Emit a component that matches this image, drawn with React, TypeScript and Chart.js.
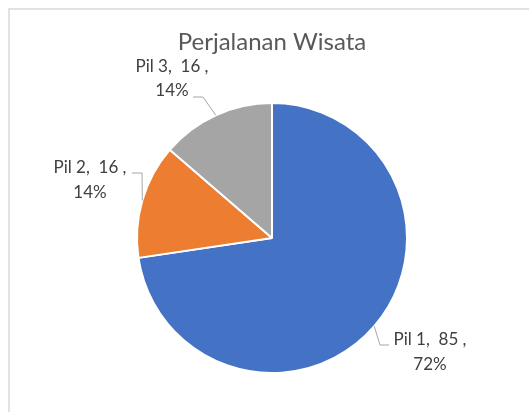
import React, { useEffect, useRef } from "react";
import { Chart, registerables } from "chart.js";

Chart.register(...registerables);

const chartTitle = "Perjalanan Wisata";
const categories = ["Pil 1", "Pil 2", "Pil 3"];
const values = [85, 16, 16];
const percentLabels = ["72%", "14%", "14%"];
const sliceColors = ["#4472C4", "#ED7D31", "#A5A5A5"];

// label placement relative to the pie centre (text line centres and leader elbow/end)
const labelLayout = [
  { tx: 158, ty1: 102, ty2: 127, ex: 108, ey: 107, endX: 117 },
  { tx: -182, ty1: -70, ty2: -45, ex: -130, ey: -65, endX: -140 },
  { tx: -100, ty1: -171, ty2: -147, ex: -69, ey: -141, endX: -79 },
];

const FONT = "Lato, 'Open Sans', sans-serif";

const labelPlugin = {
  id: "pieLabels",
  afterDatasetsDraw(chart: any) {
    const meta = chart.getDatasetMeta(0);
    const ctx = chart.ctx;
    ctx.save();
    meta.data.forEach((arc: any, i: number) => {
      const p = arc.getProps(["x", "y", "startAngle", "endAngle", "outerRadius"], true);
      const mid = (p.startAngle + p.endAngle) / 2;
      const ax = p.x + Math.cos(mid) * p.outerRadius;
      const ay = p.y + Math.sin(mid) * p.outerRadius;
      const L = labelLayout[i];
      ctx.strokeStyle = "#A6A6A6";
      ctx.lineWidth = 1;
      ctx.beginPath();
      ctx.moveTo(ax, ay);
      ctx.lineTo(p.x + L.ex, p.y + L.ey);
      ctx.lineTo(p.x + L.endX, p.y + L.ey);
      ctx.stroke();
      ctx.fillStyle = "#404040";
      ctx.font = `17px ${FONT}`;
      ctx.textAlign = "center";
      ctx.textBaseline = "middle";
      ctx.fillText(`${categories[i]},  ${values[i]} ,`, p.x + L.tx, p.y + L.ty1);
      ctx.fillText(percentLabels[i], p.x + L.tx, p.y + L.ty2);
    });
    ctx.restore();
  },
};

export default function App() {
  const ref = useRef<HTMLCanvasElement | null>(null);
  useEffect(() => {
    if (!ref.current) return;
    const chart = new Chart(ref.current, {
      type: "pie",
      data: {
        labels: categories,
        datasets: [
          {
            data: values,
            backgroundColor: sliceColors,
            borderColor: "#FFFFFF",
            borderWidth: 2,
          },
        ],
      },
      options: {
        responsive: false,
        animation: false,
        devicePixelRatio: 1,
        radius: 135,
        layout: { padding: { top: 0, bottom: 26, left: 100, right: 95 } },
        plugins: {
          legend: { display: false },
          tooltip: { enabled: false },
          title: {
            display: true,
            text: chartTitle,
            color: "#595959",
            font: { family: FONT, size: 24, weight: "normal" },
            padding: { top: 17.6, bottom: 33.6 },
          },
        },
      } as any,
      plugins: [labelPlugin],
    });
    return () => chart.destroy();
  }, []);
  return (
    <div
      style={{
        position: "absolute",
        left: 8,
        top: 8,
        width: 521,
        height: 404,
        borderTop: "2px solid #E2E2E2",
        borderLeft: "2px solid #E2E2E2",
        boxSizing: "border-box",
        background: "#fff",
      }}
    >
      <canvas ref={ref} width={519} height={402} style={{ display: "block" }} />
    </div>
  );
}
